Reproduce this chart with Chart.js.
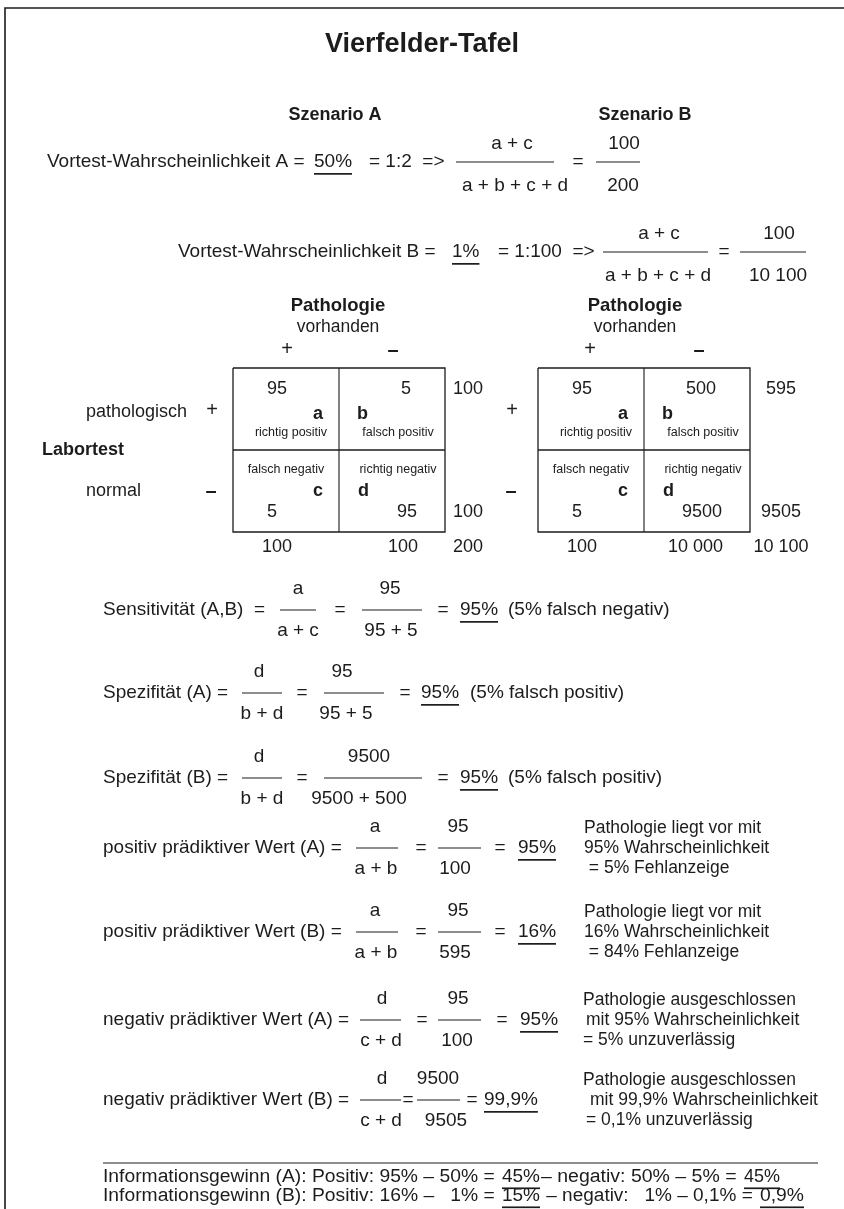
<!DOCTYPE html>
<html>
<head>
<meta charset="utf-8">
<script src="https://cdn.jsdelivr.net/npm/chart.js@4.4.1/dist/chart.umd.min.js"></script>
<style>
  html, body { margin: 0; padding: 0; background: #fff; }
  canvas { display: block; }
</style>
</head>
<body>
<canvas id="c" width="844" height="1209"></canvas>
<script>
// ---- values ----
const scenarios = ['Szenario A', 'Szenario B'];
const cellLetters = ['a', 'b', 'c', 'd'];
const cellNames = ['richtig positiv', 'falsch positiv', 'falsch negativ', 'richtig negativ'];
const countsA = ['95', '5', '5', '95'];
const countsB = ['95', '500', '5', '9500'];
const rowTotalsA = ['100', '100'];
const rowTotalsB = ['595', '9505'];
const colTotalsA = ['100', '100', '200'];
const colTotalsB = ['100', '10 000', '10 100'];
const pretestProb = ['50%', '1%'];
const pretestOdds = ['1:2', '1:100'];
const pretestNum = ['100', '100'];
const pretestDen = ['200', '10 100'];

const INK = '#1c1c1c';
const FONT = '"Liberation Sans", Arial, sans-serif';

// ---- layout: [x1, x2, y] fraction bars, page frame, grid ----
const tableX = [233, 538];      // left edge of each 2x2 table
const tableW = 212, tableDiv = 106;
const tableTop = 368, tableMid = 450, tableBot = 532;

const bars = [
  [456, 554, 162], [596, 640, 162],
  [603, 708, 252], [740, 806, 252],
  [280, 316, 610], [362, 422, 610],
  [242, 282, 693], [324, 384, 693],
  [242, 282, 778], [324, 422, 778],
  [356, 398, 848], [438, 481, 848],
  [356, 398, 932], [438, 481, 932],
  [360, 401, 1020], [438, 481, 1020],
  [360, 401, 1100], [417, 460, 1100],
  [103, 818, 1163]
];

const segs = [];
bars.forEach(b => segs.push({ pts: [[b[0], b[2]], [b[1], b[2]]], w: 1.2 }));
segs.push({ pts: [[5, 1209], [5, 8], [844, 8]], w: 1.6 });
tableX.forEach(x0 => {
  segs.push({ pts: [[x0, tableTop], [x0 + tableW, tableTop], [x0 + tableW, tableBot], [x0, tableBot], [x0, tableTop]], w: 1.3 });
  segs.push({ pts: [[x0 + tableDiv, tableTop], [x0 + tableDiv, tableBot]], w: 1.1 });
  segs.push({ pts: [[x0, tableMid], [x0 + tableW, tableMid]], w: 1.3 });
});

const datasets = segs.map(s => ({
  data: s.pts.map(p => ({ x: p[0], y: p[1] })),
  showLine: true,
  borderColor: INK,
  borderWidth: s.w,
  pointRadius: 0,
  tension: 0,
  fill: false
}));

// ---- texts: [string, x, y, options] ----
const texts = [];
function t(s, x, y, o) { texts.push([s, x, y, o || {}]); }

t('Vierfelder-Tafel', 422, 45, { align: 'center', bold: true, size: 27 });
t(scenarios[0], 335, 115, { align: 'center', bold: true, size: 18 });
t(scenarios[1], 645, 115, { align: 'center', bold: true, size: 18 });

// pretest rows
const preRows = [
  { y: 162, lx: 47, label: 'Vortest-Wahrscheinlichkeit A =', px: 314, ox: 369, b2: 1, eq: 578, nx: 512, dx: 515 },
  { y: 252, lx: 178, label: 'Vortest-Wahrscheinlichkeit B =', px: 452, ox: 498, b2: 3, eq: 724, nx: 659, dx: 658 }
];
preRows.forEach((r, i) => {
  t(r.label, r.lx, r.y, { size: 19 });
  t(pretestProb[i], r.px, r.y, { u: true, size: 19 });
  t('= ' + pretestOdds[i] + '  =>', r.ox, r.y, { size: 19 });
  const b2 = bars[r.b2];
  t('a + c', r.nx, r.y - 18, { align: 'center', size: 19 });
  t('a + b + c + d', r.dx, r.y + 24, { align: 'center', size: 19 });
  t('=', r.eq, r.y, { align: 'center', size: 19 });
  t(pretestNum[i], (b2[0] + b2[1]) / 2 + 6, r.y - 18, { align: 'center', size: 19 });
  t(pretestDen[i], (b2[0] + b2[1]) / 2 + 5, r.y + 24, { align: 'center', size: 19 });
});

// 2x2 tables
const pathX = [338, 635];
const plusX = [[287, 393], [590, 699]];
[0, 1].forEach(k => {
  const dx = tableX[k] - tableX[0];
  const counts = k ? countsB : countsA;
  const rows = k ? rowTotalsB : rowTotalsA;
  const cols = k ? colTotalsB : colTotalsA;
  const sumX = k ? 781 : 468;
  t('Pathologie', pathX[k], 306, { align: 'center', bold: true, size: 18.5 });
  t('vorhanden', pathX[k], 327, { align: 'center', size: 17.5 });
  t('+', plusX[k][0], 349, { align: 'center', size: 20 });
  t('–', plusX[k][1], 350, { align: 'center', size: 20, bold: true });
  t(counts[0], 277 + dx, 389, { align: 'center', size: 18 });
  t(counts[1], 411 + dx, 389, { align: 'right', size: 18 });
  t(cellLetters[0], 323 + dx, 414, { align: 'right', bold: true, size: 18 });
  t(cellLetters[1], 357 + dx, 414, { bold: true, size: 18 });
  t(cellNames[0], 291 + dx, 433, { align: 'center', size: 12.5 });
  t(cellNames[1], 398 + dx, 433, { align: 'center', size: 12.5 });
  t(cellNames[2], 286 + dx, 470, { align: 'center', size: 12.5 });
  t(cellNames[3], 398 + dx, 470, { align: 'center', size: 12.5 });
  t(cellLetters[2], 323 + dx, 491, { align: 'right', bold: true, size: 18 });
  t(cellLetters[3], 358 + dx, 491, { bold: true, size: 18 });
  t(counts[2], 272 + dx, 512, { align: 'center', size: 18 });
  t(counts[3], 417 + dx, 512, { align: 'right', size: 18 });
  t(rows[0], sumX, 389, { align: 'center', size: 18 });
  t(rows[1], sumX, 512, { align: 'center', size: 18 });
  t(cols[0], 277 + dx, 547, { align: 'center', size: 18 });
  t(cols[1], 418 + dx, 547, { align: 'right', size: 18 });
  t(cols[2], sumX, 547, { align: 'center', size: 18 });
});
t('pathologisch', 86, 412, { size: 18 });
t('+', 212, 410, { align: 'center', size: 20 });
t('Labortest', 42, 450, { bold: true, size: 18 });
t('normal', 86, 491, { size: 18 });
t('–', 211, 491, { align: 'center', size: 20, bold: true });
t('+', 512, 410, { align: 'center', size: 20 });
t('–', 511, 491, { align: 'center', size: 20, bold: true });

// formula rows
function formula(y, label, f1, f2, eq1, eq2, res, rx, note) {
  t(label, 103, y, { size: 19 });
  t(f1[1], f1[3], y - 21, { align: 'center', size: 19 });
  t(f1[2], f1[4], y + 21, { align: 'center', size: 19 });
  t('=', eq1, y, { align: 'center', size: 19 });
  t(f2[1], f2[3], y - 21, { align: 'center', size: 19 });
  t(f2[2], f2[4], y + 21, { align: 'center', size: 19 });
  t('=', eq2, y, { align: 'center', size: 19 });
  t(res, rx, y, { u: true, size: 19 });
  if (note) note.forEach(n => t(n[0], n[1], y + n[2], { size: n[3] || 17.5 }));
}
formula(610, 'Sensitivität (A,B)  =', [4, 'a', 'a + c', 298, 298], [5, '95', '95 + 5', 390, 391], 340, 443, '95%', 460,
  [['(5% falsch negativ)', 508, 0, 19]]);
formula(693, 'Spezifität (A) =', [6, 'd', 'b + d', 259, 262], [7, '95', '95 + 5', 342, 346], 302, 405, '95%', 421,
  [['(5% falsch positiv)', 470, 0, 19]]);
formula(778, 'Spezifität (B) =', [8, 'd', 'b + d', 259, 262], [9, '9500', '9500 + 500', 369, 359], 302, 443, '95%', 460,
  [['(5% falsch positiv)', 508, 0, 19]]);
formula(848, 'positiv prädiktiver Wert (A) =', [10, 'a', 'a + b', 375, 376], [11, '95', '100', 458, 455], 421, 500, '95%', 518,
  [['Pathologie liegt vor mit', 584, -20], ['95% Wahrscheinlichkeit', 584, 0], [' = 5% Fehlanzeige', 584, 20]]);
formula(932, 'positiv prädiktiver Wert (B) =', [12, 'a', 'a + b', 375, 376], [13, '95', '595', 458, 455], 421, 500, '16%', 518,
  [['Pathologie liegt vor mit', 584, -20], ['16% Wahrscheinlichkeit', 584, 0], [' = 84% Fehlanzeige', 584, 20]]);
formula(1020, 'negativ prädiktiver Wert (A) =', [14, 'd', 'c + d', 382, 381], [15, '95', '100', 458, 457], 422, 502, '95%', 520,
  [['Pathologie ausgeschlossen', 583, -20], ['mit 95% Wahrscheinlichkeit', 586, 0], ['= 5% unzuverlässig', 583, 20]]);
formula(1100, 'negativ prädiktiver Wert (B) =', [16, 'd', 'c + d', 382, 381], [17, '9500', '9505', 438, 446], 408, 472, '99,9%', 484,
  [['Pathologie ausgeschlossen', 583, -20], ['mit 99,9% Wahrscheinlichkeit', 590, 0], ['= 0,1% unzuverlässig', 586, 20]]);

// information gain
t('Informationsgewinn (A): Positiv: 95% – 50% = ', 103, 1177, { w: 397, size: 18 });
t('45%', 502, 1177, { u: true, w: 38, size: 18 });
t('– negativ: 50% – 5% = ', 541, 1177, { w: 201, size: 18 });
t('45%', 744, 1177, { u: true, w: 36, size: 18 });
t('Informationsgewinn (B): Positiv: 16% –   1% = ', 103, 1196, { w: 397, size: 18 });
t('15%', 502, 1196, { u: true, w: 38, size: 18 });
t(' – negativ:   1% – 0,1% = ', 541, 1196, { w: 217, size: 18 });
t('0,9%', 760, 1196, { u: true, w: 44, size: 18 });

const textPlugin = {
  id: 'texts',
  afterDatasetsDraw(chart) {
    const ctx = chart.ctx, xs = chart.scales.x, ys = chart.scales.y;
    texts.forEach(([s, x, y, o]) => {
      const size = o.size || 16;
      ctx.save();
      ctx.font = (o.bold ? 'bold ' : '') + size + 'px ' + FONT;
      ctx.fillStyle = INK;
      ctx.textBaseline = 'middle';
      ctx.textAlign = 'left';
      const w = ctx.measureText(s).width;
      const sx = o.w ? o.w / w : 1;
      const px = xs.getPixelForValue(x), py = ys.getPixelForValue(y);
      const left = o.align === 'center' ? px - w * sx / 2 : o.align === 'right' ? px - w * sx : px;
      ctx.translate(left, py);
      ctx.scale(sx, 1);
      ctx.fillText(s, 0, 0);
      ctx.restore();
      if (o.u) {
        ctx.fillStyle = INK;
        ctx.fillRect(left, py + size * 0.58, w * sx, 1.7);
      }
    });
  }
};

new Chart(document.getElementById('c'), {
  type: 'scatter',
  data: { datasets },
  options: {
    responsive: false,
    animation: false,
    events: [],
    layout: { padding: 0 },
    plugins: { legend: { display: false }, tooltip: { enabled: false } },
    scales: {
      x: { type: 'linear', min: 0, max: 844, display: false },
      y: { type: 'linear', min: 0, max: 1209, reverse: true, display: false }
    }
  },
  plugins: [textPlugin]
});
</script>
</body>
</html>
